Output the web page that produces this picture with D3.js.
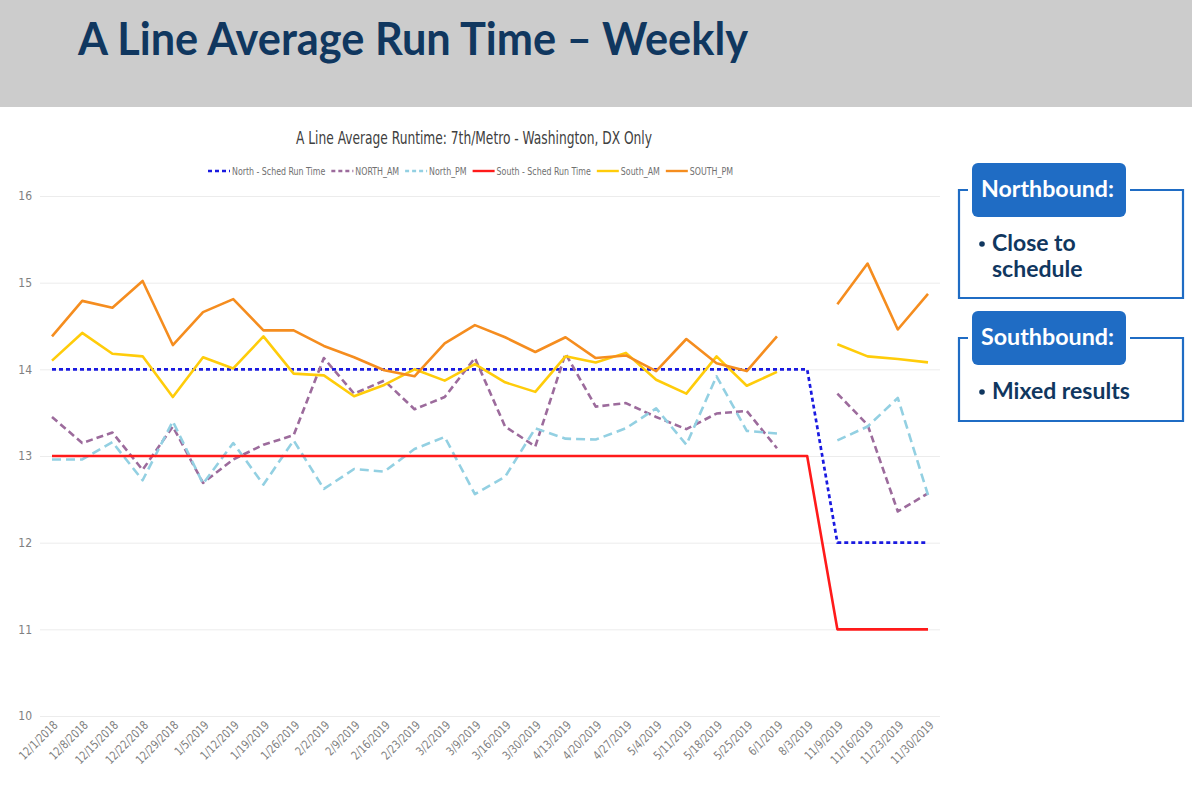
<!DOCTYPE html>
<html>
<head>
<meta charset="utf-8">
<script src="https://cdn.jsdelivr.net/npm/d3@7"></script>
<style>
  html, body { margin: 0; padding: 0; background: #fff; }
  svg { display: block; }
  .grid line { stroke: #ececec; stroke-width: 1; }
  .grid text, .x-axis text { fill: #808080; font-family: "Liberation Sans Narrow", "DejaVu Sans Condensed", "Roboto", sans-serif; font-size: 11px; }
  .grid text { font-size: 12px; }
</style>
</head>
<body>
<div id="chart"></div>
<script>
'use strict';

const W = 1192, H = 788;

// Week labels (category axis)
const WEEKS = [
  '12/1/2018', '12/8/2018', '12/15/2018', '12/22/2018', '12/29/2018',
  '1/5/2019', '1/12/2019', '1/19/2019', '1/26/2019', '2/2/2019',
  '2/9/2019', '2/16/2019', '2/23/2019', '3/2/2019', '3/9/2019',
  '3/16/2019', '3/30/2019', '4/13/2019', '4/20/2019', '4/27/2019',
  '5/4/2019', '5/11/2019', '5/18/2019', '5/25/2019', '6/1/2019',
  '8/3/2019', '11/9/2019', '11/16/2019', '11/23/2019', '11/30/2019',
];

const Y_TICKS = [10, 11, 12, 13, 14, 15, 16];

// Series values (null = no data that week)
const NORTH_SCHED = [
  14, 14, 14, 14, 14, 14, 14, 14, 14, 14, 14, 14, 14, 14, 14,
  14, 14, 14, 14, 14, 14, 14, 14, 14, 14, 14, 12, 12, 12, 12,
];
const NORTH_AM = [
  13.45, 13.15, 13.27, 12.84, 13.34, 12.69, 12.96, 13.13, 13.24, 14.13,
  13.72, 13.87, 13.54, 13.68, 14.13, 13.34, 13.11, 14.18, 13.57, 13.61,
  13.45, 13.31, 13.49, 13.52, 13.09, null, 13.72, 13.36, 12.36, 12.57,
];
const NORTH_PM = [
  12.96, 12.96, 13.16, 12.72, 13.40, 12.68, 13.15, 12.67, 13.18, 12.62,
  12.85, 12.82, 13.08, 13.22, 12.56, 12.76, 13.32, 13.20, 13.19, 13.32,
  13.55, 13.13, 13.92, 13.29, 13.26, null, 13.18, 13.34, 13.67, 12.55,
];
const SOUTH_SCHED = [
  13, 13, 13, 13, 13, 13, 13, 13, 13, 13, 13, 13, 13, 13, 13,
  13, 13, 13, 13, 13, 13, 13, 13, 13, 13, 13, 11, 11, 11, 11,
];
const SOUTH_AM = [
  14.10, 14.42, 14.18, 14.15, 13.68, 14.14, 14.01, 14.38, 13.95, 13.93,
  13.69, 13.82, 14.00, 13.87, 14.06, 13.85, 13.74, 14.15, 14.08, 14.19,
  13.88, 13.72, 14.15, 13.81, 13.97, null, 14.29, 14.15, 14.12, 14.08,
];
const SOUTH_PM = [
  14.38, 14.79, 14.71, 15.02, 14.28, 14.66, 14.81, 14.45, 14.45, 14.27,
  14.14, 13.99, 13.92, 14.30, 14.51, 14.37, 14.20, 14.37, 14.13, 14.16,
  13.98, 14.35, 14.07, 13.98, 14.38, null, 14.75, 15.22, 14.46, 14.87,
];

const SERIES = [
  { name: 'North - Sched Run Time', values: NORTH_SCHED, color: '#1a1ae0', dash: '4,3',  width: 2.7 },
  { name: 'NORTH_AM',               values: NORTH_AM,    color: '#9c6b9c', dash: '7,4',  width: 2.6 },
  { name: 'North_PM',               values: NORTH_PM,    color: '#93d0e2', dash: '9,5',  width: 2.6 },
  { name: 'South - Sched Run Time', values: SOUTH_SCHED, color: '#ff1a1a', dash: null,   width: 2.6 },
  { name: 'South_AM',               values: SOUTH_AM,    color: '#ffcc0a', dash: null,   width: 2.6 },
  { name: 'SOUTH_PM',               values: SOUTH_PM,    color: '#f58d1f', dash: null,   width: 2.6 },
];

const NAVY = '#10375f';
const BLUE = '#1f6cc4';
const NARROW = '"Liberation Sans Narrow", "DejaVu Sans Condensed", Roboto, sans-serif';

const svg = d3.select('#chart').append('svg')
  .attr('width', W).attr('height', H);

// Header band
svg.append('rect')
  .attr('x', 0).attr('y', 0).attr('width', W).attr('height', 107)
  .attr('fill', '#cccccc');

svg.append('text')
  .attr('x', 78).attr('y', 55)
  .attr('font-family', 'Lato, "Open Sans", sans-serif')
  .attr('font-weight', 700)
  .attr('font-size', 46)
  .attr('fill', NAVY)
  .attr('textLength', 670)
  .attr('lengthAdjust', 'spacingAndGlyphs')
  .text('A Line Average Run Time – Weekly');

// Chart title
svg.append('text')
  .attr('x', 296).attr('y', 144)
  .attr('font-family', NARROW)
  .attr('font-size', 17)
  .attr('fill', '#404040')
  .attr('textLength', 356)
  .attr('lengthAdjust', 'spacingAndGlyphs')
  .text('A Line Average Runtime: 7th/Metro - Washington, DX Only');

// Scales
const x = d3.scalePoint().domain(WEEKS).range([52, 928]);
const y = d3.scaleLinear().domain([10, 16]).range([716, 196]);

// Grid + y labels
svg.append('g')
  .attr('class', 'grid')
  .attr('transform', 'translate(40,0)')
  .call(d3.axisLeft(y).tickValues(Y_TICKS).tickSize(-900).tickPadding(8).tickFormat(d3.format('d')))
  .call(g => g.select('.domain').remove());

// X axis labels, squeezed a little to look condensed
svg.append('g')
  .attr('class', 'x-axis')
  .attr('transform', 'translate(0,716)')
  .call(d3.axisBottom(x).tickSize(0).tickPadding(0))
  .call(g => g.select('.domain').remove())
  .call(g => g.selectAll('text')
    .attr('text-anchor', 'end')
    .attr('dy', 0)
    .style('font-size', '12px')
    .attr('transform', 'translate(6,10) rotate(-45) scale(0.88,1)'));

// Lines
const line = d3.line()
  .defined(d => d != null)
  .x((d, i) => x(WEEKS[i]))
  .y(d => y(d));

SERIES.forEach(s => {
  svg.append('path')
    .datum(s.values)
    .attr('fill', 'none')
    .attr('stroke', s.color)
    .attr('stroke-width', s.width)
    .attr('stroke-dasharray', s.dash)
    .attr('stroke-linejoin', 'round')
    .attr('d', line);
});

// Legend: squeeze texts so the row spans 208..733 like the reference
const LEG_LEFT = 208, LEG_RIGHT = 733, SAMPLE = 22, GAP = 6;
const legend = svg.append('g').attr('transform', 'translate(0,171)');
const items = SERIES.map(s => {
  const g = legend.append('g');
  g.append('line')
    .attr('x1', 0).attr('x2', SAMPLE).attr('y1', 0).attr('y2', 0)
    .attr('stroke', s.color).attr('stroke-width', 2.4)
    .attr('stroke-dasharray', s.dash ? '4,3' : null);
  const t = g.append('text')
    .attr('x', SAMPLE + 2).attr('y', 3.5)
    .attr('font-family', NARROW)
    .attr('font-size', 11)
    .attr('fill', '#707070')
    .text(s.name);
  return { g, t, w: t.node().getComputedTextLength() };
});
const textTotal = d3.sum(items, d => d.w);
const k = (LEG_RIGHT - LEG_LEFT - items.length * (SAMPLE + 2) - (items.length - 1) * GAP) / textTotal;
let lx = LEG_LEFT;
items.forEach(d => {
  const tw = d.w * k;
  d.t.attr('textLength', tw).attr('lengthAdjust', 'spacingAndGlyphs');
  d.g.attr('transform', `translate(${lx},0)`);
  lx += SAMPLE + 2 + tw + GAP;
});

// Callout boxes
const BOXES = [
  { title: 'Northbound:', lines: ['Close to', 'schedule'], pillY: 163, top: 190, bottom: 298 },
  { title: 'Southbound:', lines: ['Mixed results'],        pillY: 311, top: 338, bottom: 421 },
];

BOXES.forEach(b => {
  const g = svg.append('g');
  const left = 959, right = 1183;
  g.append('path')
    .attr('d', `M968,${b.top} H${left} V${b.bottom} H${right} V${b.top} H1130`)
    .attr('fill', 'none')
    .attr('stroke', BLUE)
    .attr('stroke-width', 2.2);
  g.append('rect')
    .attr('x', 972).attr('y', b.pillY).attr('width', 154).attr('height', 54)
    .attr('rx', 6)
    .attr('fill', BLUE);
  g.append('text')
    .attr('x', 981).attr('y', b.pillY + 34)
    .attr('font-family', 'Lato, "Open Sans", sans-serif')
    .attr('font-weight', 700)
    .attr('font-size', 23)
    .attr('fill', '#fff')
    .attr('textLength', 133)
    .attr('lengthAdjust', 'spacingAndGlyphs')
    .text(b.title);
  b.lines.forEach((ln, i) => {
    const ty = b.pillY + 88 + i * 26;
    if (i === 0) {
      g.append('circle')
        .attr('cx', 982).attr('cy', ty - 7).attr('r', 2.8)
        .attr('fill', NAVY);
    }
    g.append('text')
      .attr('x', 992).attr('y', ty)
      .attr('font-family', 'Lato, "Open Sans", sans-serif')
      .attr('font-weight', 700)
      .attr('font-size', 23)
      .attr('fill', NAVY)
      .text(ln);
  });
});
</script>
</body>
</html>
